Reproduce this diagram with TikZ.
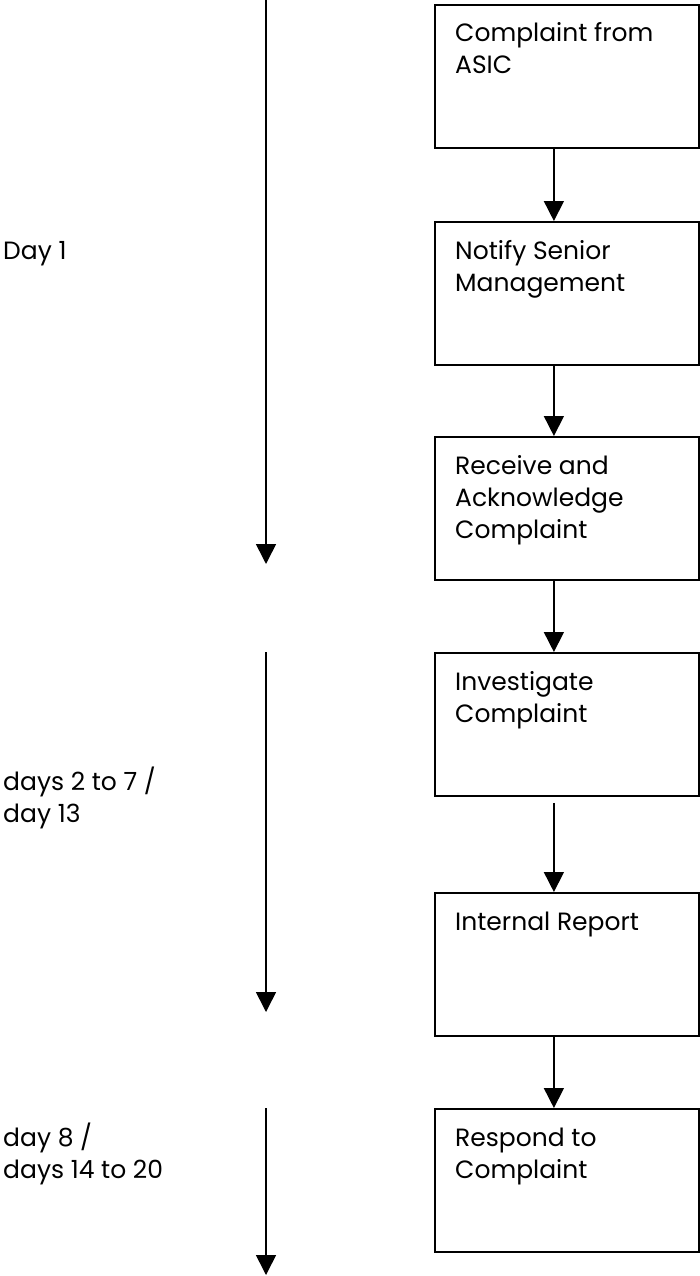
\documentclass[tikz,border=0pt]{standalone}
\usepackage{fontspec}
\setmainfont{Poppins}
\usetikzlibrary{arrows.meta}
\begin{document}
\begin{tikzpicture}[x=1pt,y=-1pt,
  stepbox/.style={draw=black,line width=1.8pt,minimum width=264pt,minimum height=143pt,inner sep=0pt,anchor=north west},
  boxtext/.style={anchor=base west,inner sep=0pt,align=left,font=\fontsize{25}{32}\selectfont},
  daytext/.style={anchor=base west,inner sep=0pt,align=left,font=\fontsize{25}{32}\selectfont},
  flow/.style={line width=1.6pt,-{Triangle[width=20pt,length=20pt]}}
]
\useasboundingbox (0,0) rectangle (699,1276);
\node[stepbox] (b1) at (434,4) {};
\node[stepbox] (b2) at (434,221) {};
\node[stepbox] (b3) at (434,436) {};
\node[stepbox] (b4) at (434,652) {};
\node[stepbox] (b5) at (434,892) {};
\node[stepbox] (b6) at (434,1108) {};
\node[boxtext] (t1) at (455,42) {Complaint from};
\node[boxtext] (t1b) at (455,74) {ASIC};
\node[boxtext] (t2) at (455,259) {Notify Senior};
\node[boxtext] (t2b) at (455,291) {Management};
\node[boxtext] (t3) at (455,474) {Receive and};
\node[boxtext] (t3b) at (455,506) {Acknowledge};
\node[boxtext] (t3c) at (455,538) {Complaint};
\node[boxtext] (t4) at (455,690) {Investigate};
\node[boxtext] (t4b) at (455,722) {Complaint};
\node[boxtext] (t5) at (455,930) {Internal Report};
\node[boxtext] (t6) at (455,1146) {Respond to};
\node[boxtext] (t6b) at (455,1178) {Complaint};
\node[daytext] (d1) at (3,259) {Day 1};
\node[daytext] (d2) at (3,790) {days 2 to 7 /};
\node[daytext] (d2b) at (3,822) {day 13};
\node[daytext] (d3) at (3,1146) {day 8 /};
\node[daytext] (d3b) at (3,1178) {days 14 to 20};
\draw[flow] ([xshift=-13pt]b1.south) -- ([xshift=-13pt]b2.north);
\draw[flow] ([xshift=-13pt]b2.south) -- ([xshift=-13pt]b3.north);
\draw[flow] ([xshift=-13pt]b3.south) -- ([xshift=-13pt]b4.north);
\draw[flow,shorten <=6pt] ([xshift=-13pt]b4.south) -- ([xshift=-13pt]b5.north);
\draw[flow] ([xshift=-13pt]b5.south) -- ([xshift=-13pt]b6.north);
\coordinate (a1s) at (266,0);
\coordinate (a1e) at (266,564);
\coordinate (a2s) at (266,652);
\coordinate (a2e) at (266,1012);
\coordinate (a3s) at (266,1108);
\coordinate (a3e) at (266,1275);
\draw[flow] (a1s) -- (a1e);
\draw[flow] (a2s) -- (a2e);
\draw[flow] (a3s) -- (a3e);
\end{tikzpicture}
\end{document}
